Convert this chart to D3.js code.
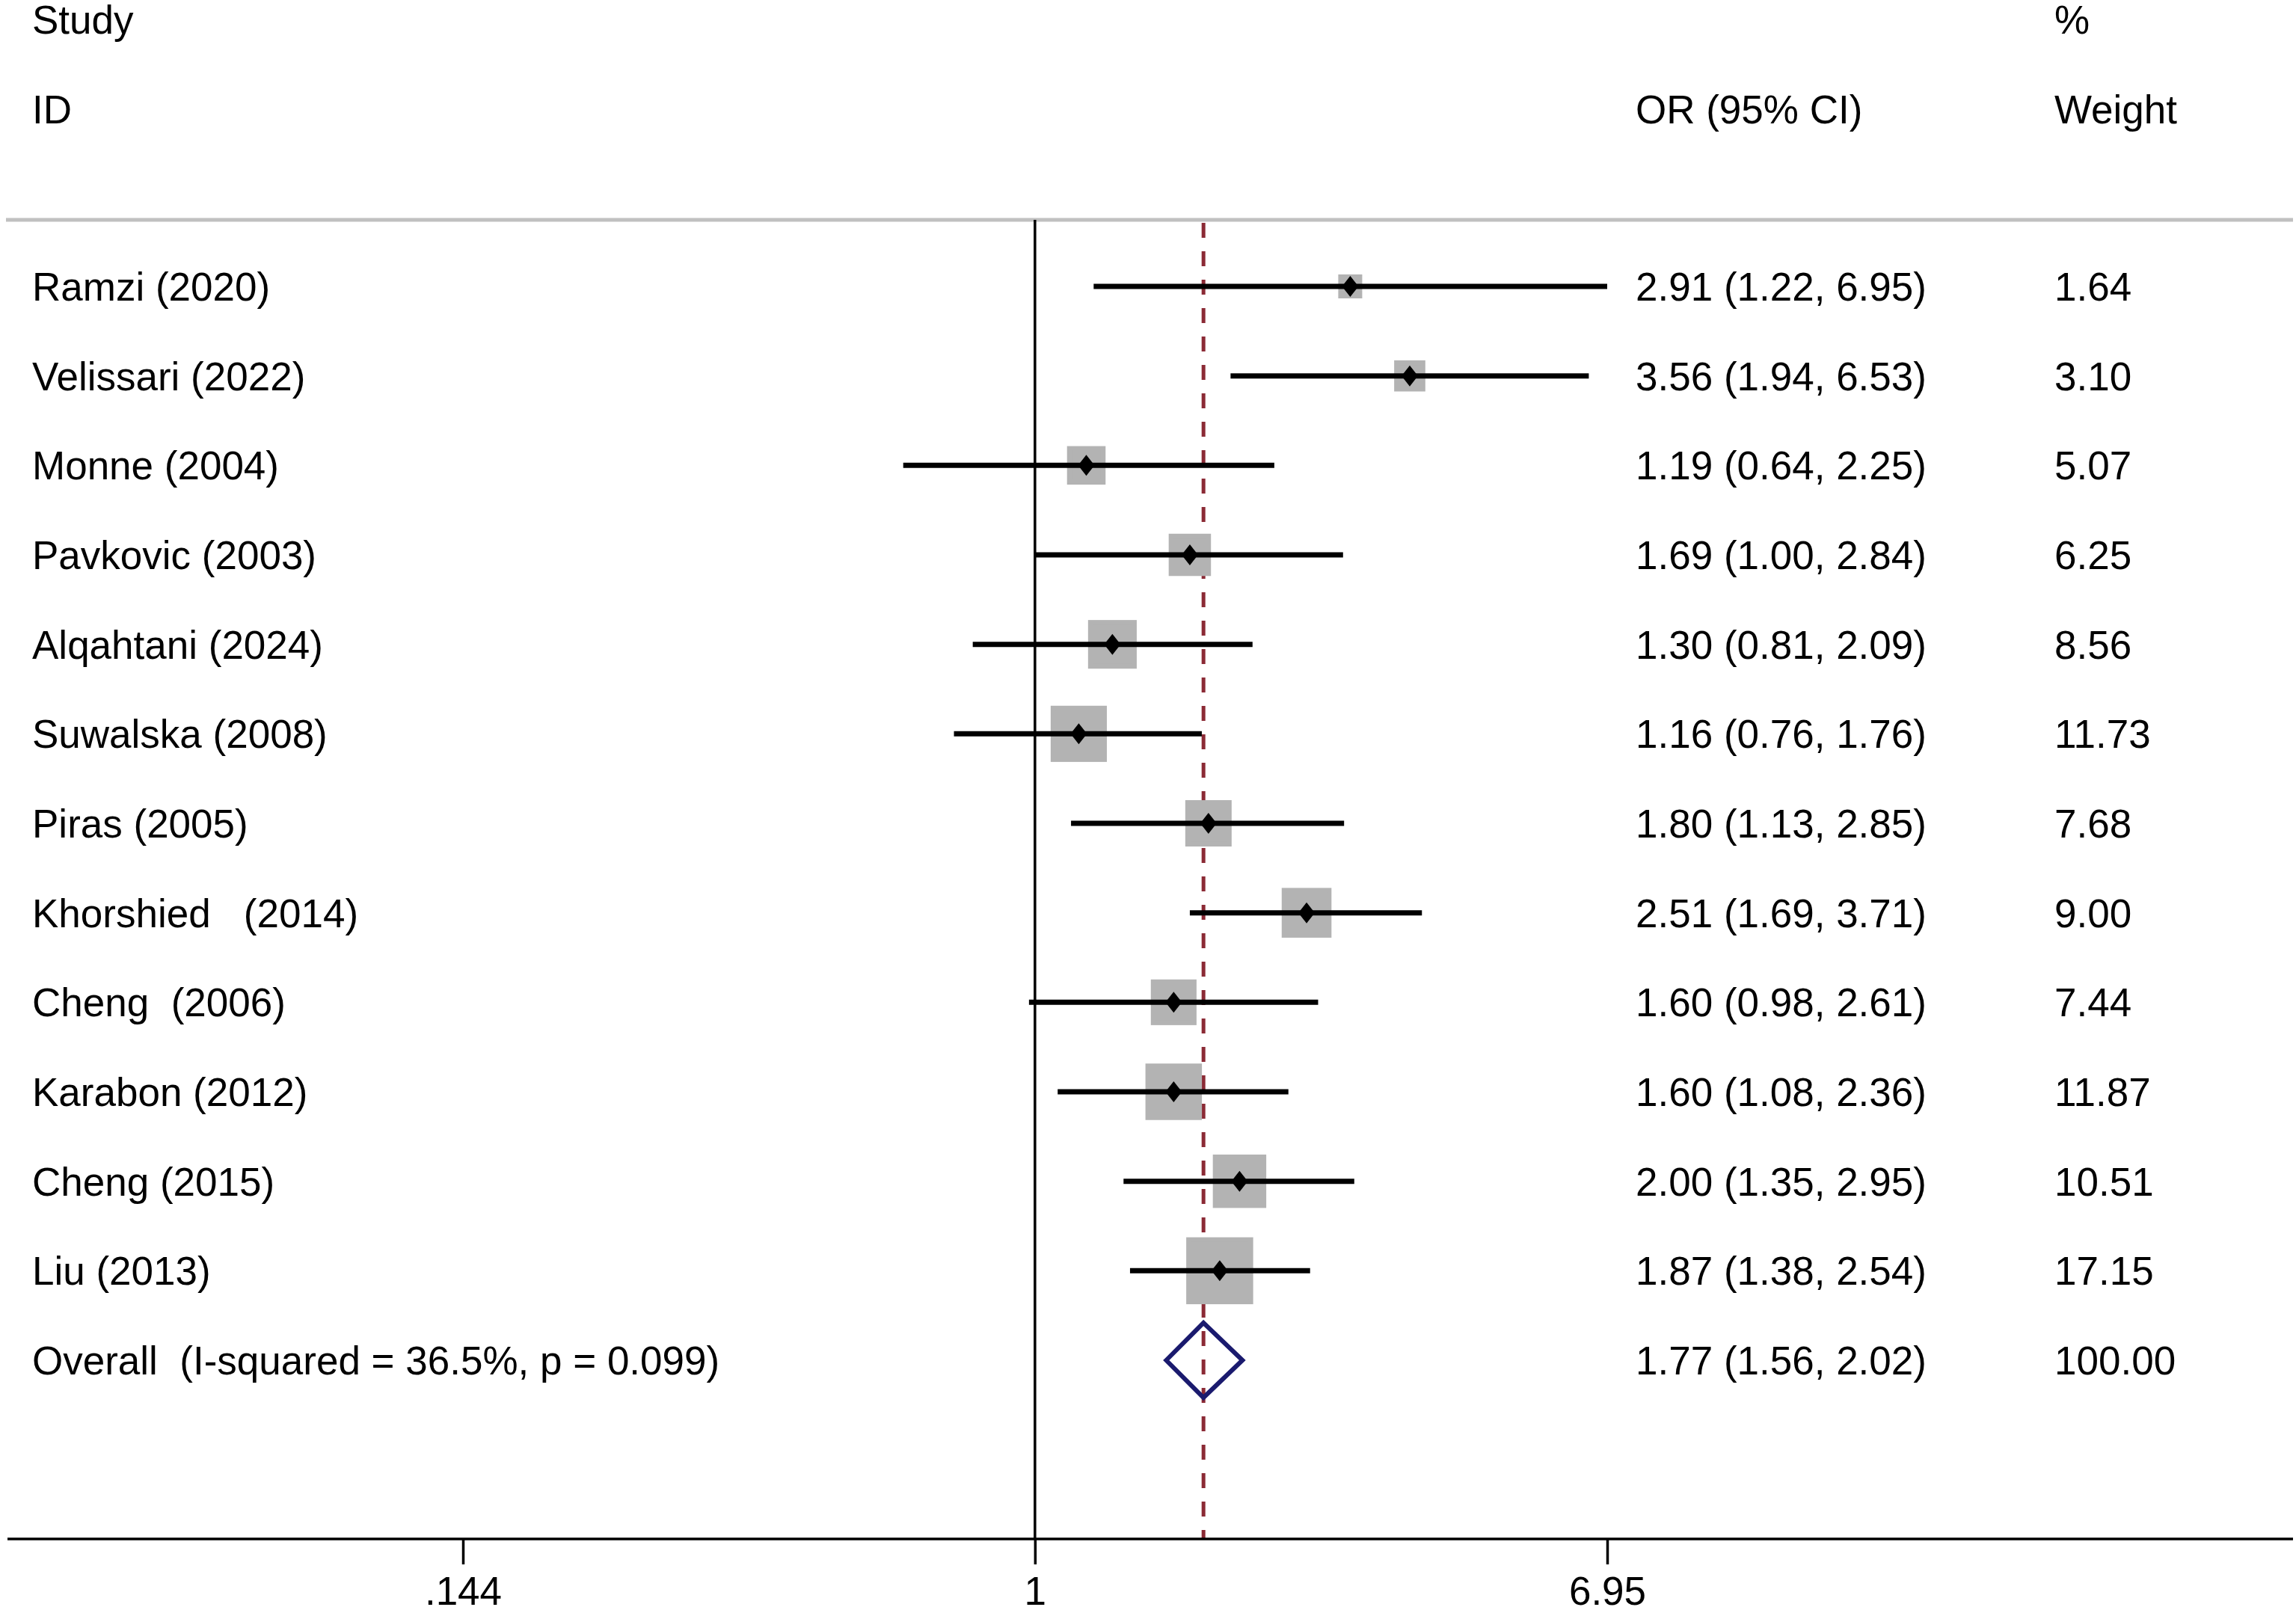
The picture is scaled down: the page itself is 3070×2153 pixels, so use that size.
<!DOCTYPE html>
<meta charset="utf-8">
<head>
    <title>Forest Plot</title>
    <script src="https://d3js.org/d3.v7.min.js"></script>
    <style>
        body { margin: 0; background: white; }
        text { font-family: "Liberation Sans", Arial, sans-serif; font-size: 53px; fill: black; white-space: pre; }
    </style>
</head>
<body>
    <div id="forest"></div>

    <script>
        // study data
        var studies = ["Ramzi (2020)", "Velissari (2022)", "Monne (2004)", "Pavkovic (2003)",
            "Alqahtani (2024)", "Suwalska (2008)", "Piras (2005)", "Khorshied   (2014)",
            "Cheng  (2006)", "Karabon (2012)", "Cheng (2015)", "Liu (2013)"];
        var oddsRatios = [2.91, 3.56, 1.19, 1.69, 1.30, 1.16, 1.80, 2.51, 1.60, 1.60, 2.00, 1.87];
        var lowerCI = [1.22, 1.94, 0.64, 1.00, 0.81, 0.76, 1.13, 1.69, 0.98, 1.08, 1.35, 1.38];
        var upperCI = [6.95, 6.53, 2.25, 2.84, 2.09, 1.76, 2.85, 3.71, 2.61, 2.36, 2.95, 2.54];
        var weights = [1.64, 3.10, 5.07, 6.25, 8.56, 11.73, 7.68, 9.00, 7.44, 11.87, 10.51, 17.15];

        var overallLabel = "Overall  (I-squared = 36.5%, p = 0.099)";
        var overallOR = 1.77, overallLower = 1.56, overallUpper = 2.02, overallWeight = 100.00;

        var tickValues = [0.144, 1, 6.95];
        var tickLabels = [".144", "1", "6.95"];

        var width = 3070, height = 2153;
        var fmt = d3.format(".2f");

        var svg = d3.select("#forest").append("svg")
            .attr("width", width)
            .attr("height", height);

        var rows = studies.map(function(s, i) {
            return { label: s, or: oddsRatios[i], lo: lowerCI[i], hi: upperCI[i], w: weights[i], i: i };
        });

        // scales
        var x = d3.scaleLog().domain([0.144, 6.95]).range([619, 2149]);
        var y = d3.scaleLinear().domain([0, studies.length]).range([383, 1819]);
        var size = d3.scaleSqrt().domain([0, d3.max(weights)]).range([0, 83.2]);

        var topY = 294, axisY = 2058;
        var colText = 43, colOR = 2187, colW = 2747;

        // headers
        svg.append("text").attr("x", colText).attr("y", 45).text("Study");
        svg.append("text").attr("x", colText).attr("y", 165).text("ID");
        svg.append("text").attr("x", colOR).attr("y", 165).text("OR (95% CI)");
        svg.append("text").attr("x", colW).attr("y", 45).text("%");
        svg.append("text").attr("x", colW).attr("y", 165).text("Weight");

        svg.append("line")
            .attr("x1", 8).attr("x2", 3066)
            .attr("y1", topY).attr("y2", topY)
            .style("stroke", "#c0c0c0").style("stroke-width", 5);

        // null line
        svg.append("line")
            .attr("x1", x(1)).attr("x2", x(1))
            .attr("y1", topY).attr("y2", axisY)
            .style("stroke", "black").style("stroke-width", 3.5);

        // overall effect dashed line
        svg.append("line")
            .attr("x1", x(overallOR)).attr("x2", x(overallOR))
            .attr("y1", topY + 4).attr("y2", axisY)
            .style("stroke", "#8b2a35").style("stroke-width", 5)
            .style("stroke-dasharray", "20,18");

        // weight boxes
        svg.selectAll("rect.box")
            .data(rows)
            .enter().append("rect")
            .attr("class", "box")
            .attr("x", function(d) { return x(d.or) - size(d.w) / 2; })
            .attr("y", function(d) { return y(d.i) - size(d.w) / 2; })
            .attr("width", function(d) { return size(d.w); })
            .attr("height", function(d) { return size(d.w); })
            .style("fill", "#b3b3b3")
            .style("stroke", "#b3b3b3")
            .style("stroke-width", 6.3);

        // confidence intervals
        svg.selectAll("line.ci")
            .data(rows)
            .enter().append("line")
            .attr("class", "ci")
            .attr("x1", function(d) { return x(d.lo); })
            .attr("x2", function(d) { return x(d.hi); })
            .attr("y1", function(d) { return y(d.i); })
            .attr("y2", function(d) { return y(d.i); })
            .style("stroke", "black").style("stroke-width", 7);

        // point estimates
        svg.selectAll("path.pt")
            .data(rows)
            .enter().append("path")
            .attr("class", "pt")
            .attr("d", function(d) {
                var cx = x(d.or), cy = y(d.i);
                return "M" + (cx - 11) + "," + cy + "L" + cx + "," + (cy - 14) +
                    "L" + (cx + 11) + "," + cy + "L" + cx + "," + (cy + 14) + "Z";
            })
            .style("fill", "black");

        // overall diamond
        var oy = y(studies.length);
        svg.append("path")
            .attr("d", "M" + x(overallLower) + "," + oy +
                "L" + x(overallOR) + "," + (oy - 50) +
                "L" + x(overallUpper) + "," + oy +
                "L" + x(overallOR) + "," + (oy + 50) + "Z")
            .style("fill", "none")
            .style("stroke", "#1a1a6e")
            .style("stroke-width", 6)
            .style("stroke-linejoin", "miter");

        // row texts
        var labelRows = rows.concat([{ label: overallLabel, or: overallOR, lo: overallLower, hi: overallUpper, w: overallWeight, i: studies.length }]);

        svg.selectAll("text.study")
            .data(labelRows)
            .enter().append("text")
            .attr("class", "study")
            .attr("x", colText)
            .attr("y", function(d) { return y(d.i) + 19; })
            .text(function(d) { return d.label; });

        svg.selectAll("text.ci")
            .data(labelRows)
            .enter().append("text")
            .attr("class", "ci")
            .attr("x", colOR)
            .attr("y", function(d) { return y(d.i) + 19; })
            .text(function(d) { return fmt(d.or) + " (" + fmt(d.lo) + ", " + fmt(d.hi) + ")"; });

        svg.selectAll("text.wt")
            .data(labelRows)
            .enter().append("text")
            .attr("class", "wt")
            .attr("x", colW)
            .attr("y", function(d) { return y(d.i) + 19; })
            .text(function(d) { return fmt(d.w); });

        // axis
        svg.append("line")
            .attr("x1", 10).attr("x2", 3066)
            .attr("y1", axisY).attr("y2", axisY)
            .style("stroke", "black").style("stroke-width", 3.5);

        var xAxis = d3.axisBottom(x)
            .tickValues(tickValues)
            .tickFormat(function(d, i) { return tickLabels[i]; })
            .tickSize(34)
            .tickPadding(16);

        var gAxis = svg.append("g")
            .attr("transform", "translate(0," + axisY + ")")
            .call(xAxis);
        gAxis.select(".domain").remove();
        gAxis.selectAll(".tick line").style("stroke", "black").style("stroke-width", 3.5);
        gAxis.selectAll(".tick text")
            .style("font-family", "\"Liberation Sans\", Arial, sans-serif")
            .style("font-size", "53px")
            .style("fill", "black");
    </script>
</body>
</html>
